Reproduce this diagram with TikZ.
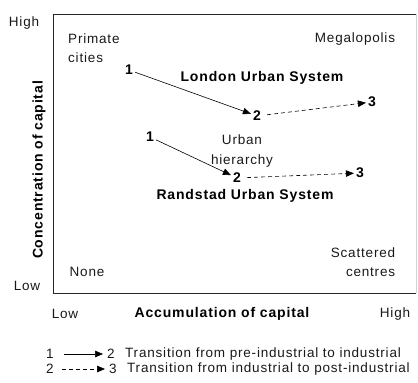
\documentclass[tikz,border=0pt]{standalone}
\usepackage{fontspec}
\setmainfont{Liberation Sans}[LetterSpace=6]
\usetikzlibrary{arrows.meta}
\begin{document}
\begin{tikzpicture}[x=1pt,y=-1pt,
  txt/.style={font=\fontsize{13.5}{19.5}\selectfont, inner sep=1pt, text=black!90},
  btxt/.style={font=\fontsize{14}{16}\selectfont\bfseries, inner sep=1pt, text=black},
  num/.style={btxt, inner sep=2pt},
  lnum/.style={txt, inner sep=1pt},
  solidarr/.style={line width=0.6pt, -{Triangle[length=8pt,width=6.5pt]}},
  dasharr/.style={solidarr, dash pattern=on 4pt off 3pt},
  framel/.style={line width=0.9pt, black!85}
]
\useasboundingbox (0,0) rectangle (418,383);
% frame
\draw[framel] (416,14) -- (53,14) -- (53,293) -- (416,293);
\draw[gray!35, line width=0.6pt] (416,14) -- (416,293);
% axis texts
\node[txt] (yhigh) at (24,23) {High};
\node[txt] (ylow) at (27,286) {Low};
\node[btxt, rotate=90] (ylab) at (39,170) {Concentration of capital};
\node[txt] (xlow) at (65,314) {Low};
\node[btxt] (xlab) at (222,314) {Accumulation of capital};
\node[txt] (xhigh) at (395,314) {High};
% corner labels
\node[txt, align=left, anchor=west] (prim) at (67,48) {Primate\\cities};
\node[txt] (mega) at (355,39) {Megalopolis};
\node[txt] (none) at (87,272) {None};
\node[txt, align=right] (sc) at (363,262) {Scattered\\centres};
\node[txt, align=center] (uh) at (242,151) {Urban\\hierarchy};
% London
\node[num] (l1) at (129,70) {1};
\node[num] (l2) at (257,116) {2};
\node[num] (l3) at (372,102) {3};
\node[btxt] (lus) at (262,78) {London Urban System};
% Randstad
\node[num] (r1) at (150,137) {1};
\node[num] (r2) at (237,178) {2};
\node[num] (r3) at (360,173) {3};
\node[btxt] (rus) at (245,196) {Randstad Urban System};
\draw[solidarr] (l1) -- (l2);
\draw[dasharr, shorten <=4pt] (l2) -- (l3);
\draw[solidarr] (r1) -- (r2);
\draw[dasharr, shorten <=4pt] (r2) -- (r3);
% legend
\node[lnum] (g1a) at (50,354) {1};
\node[lnum] (g1b) at (111,354) {2};
\node[txt, anchor=west] (g1t) at (124,354) {Transition from pre-industrial to industrial};
\node[lnum] (g2a) at (50,369) {2};
\node[lnum] (g2b) at (113,369) {3};
\node[txt, anchor=west] (g2t) at (126,369) {Transition from industrial to post-industrial};
\draw[solidarr, shorten <=9pt, shorten >=3pt] (g1a) -- (g1b);
\draw[dasharr, shorten <=7pt, shorten >=3pt] (g2a) -- (g2b);
\end{tikzpicture}
\end{document}
